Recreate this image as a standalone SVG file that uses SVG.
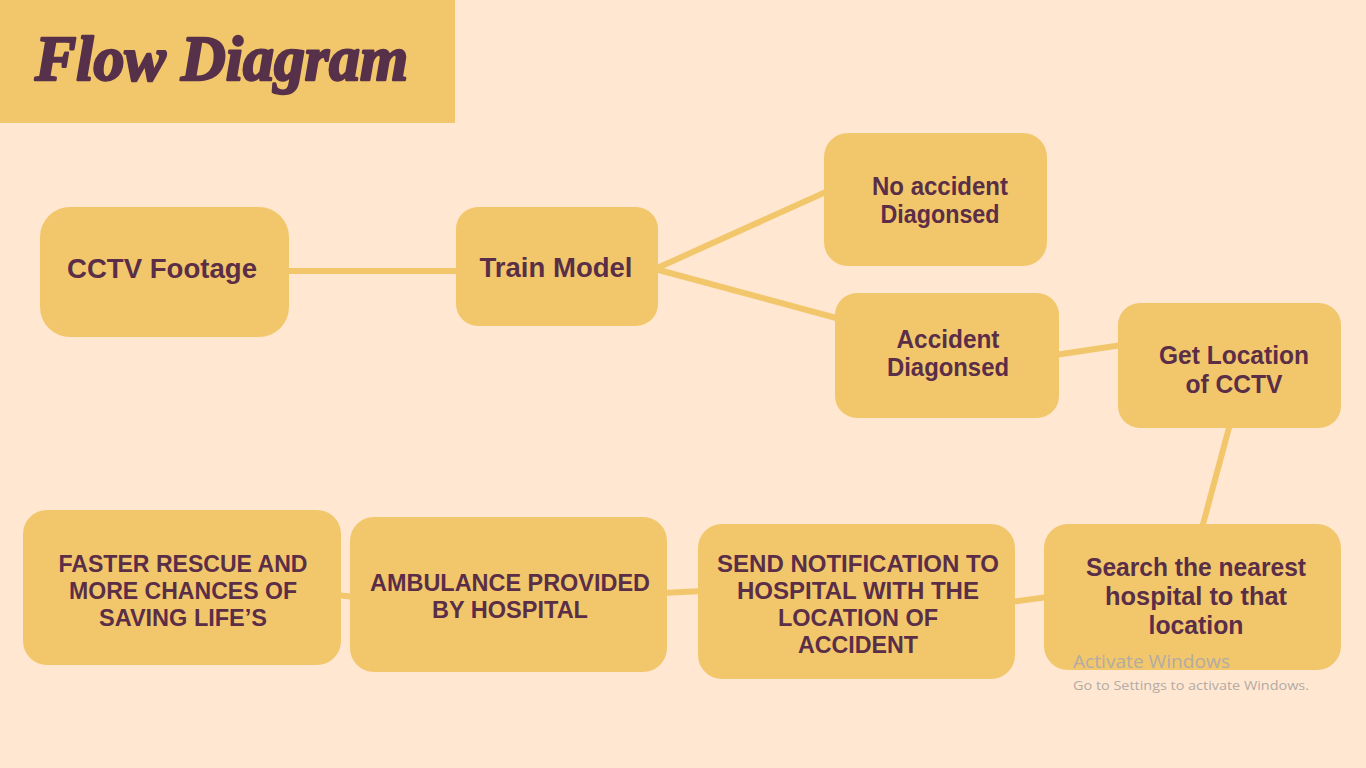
<svg xmlns="http://www.w3.org/2000/svg" width="1366" height="768" viewBox="0 0 1366 768">
<style>
.bg{fill:#FFE7D2}
.box{fill:#F2C76C}
.edge{stroke:#F2C76C;stroke-width:6;fill:none;stroke-linecap:butt}
.t{font-family:"Liberation Sans","DejaVu Sans",sans-serif;font-weight:bold;fill:#5A2E47;text-anchor:middle}
.big{font-size:27px}
.mid{font-size:25px}
.cap{font-size:24px}
.title{font-family:"Liberation Serif","DejaVu Serif",serif;font-weight:bold;font-style:italic;font-size:64px;fill:#57304A;stroke:#57304A;stroke-width:2.5;stroke-linejoin:round}
.wm{font-family:"Open Sans","Liberation Sans",sans-serif;fill:#B3ABA4}
</style>
<rect class="bg" x="0" y="0" width="1366" height="768"/>
<g id="title">
<rect class="box" x="0" y="0" width="455" height="123"/>
<text class="title" x="35" y="80" textLength="373" lengthAdjust="spacingAndGlyphs">Flow Diagram</text>
</g>
<g id="connectors">
<line class="edge" x1="285" y1="271" x2="460" y2="271"/>
<line class="edge" x1="655" y1="269" x2="828" y2="191"/>
<line class="edge" x1="655" y1="269" x2="840" y2="319"/>
<line class="edge" x1="1055" y1="355" x2="1122" y2="345"/>
<line class="edge" x1="1230" y1="424" x2="1202" y2="528"/>
<line class="edge" x1="1048" y1="597" x2="1011" y2="602"/>
<line class="edge" x1="702" y1="591" x2="663" y2="593"/>
<line class="edge" x1="354" y1="597" x2="337" y2="595"/>
</g>
<g id="n-cctv">
<rect class="box" x="40" y="207" width="249" height="130" rx="30"/>
<text class="t big" x="162" y="278" textLength="190" lengthAdjust="spacingAndGlyphs">CCTV Footage</text>
</g>
<g id="n-train">
<rect class="box" x="456" y="207" width="202" height="119" rx="22"/>
<text class="t big" x="556" y="277" textLength="153" lengthAdjust="spacingAndGlyphs">Train Model</text>
</g>
<g id="n-noacc">
<rect class="box" x="824" y="133" width="223" height="133" rx="24"/>
<text class="t mid" x="940" y="195" textLength="136" lengthAdjust="spacingAndGlyphs">No accident</text>
<text class="t mid" x="940" y="223" textLength="119" lengthAdjust="spacingAndGlyphs">Diagonsed</text>
</g>
<g id="n-acc">
<rect class="box" x="835" y="293" width="224" height="125" rx="22"/>
<text class="t mid" x="948" y="348" textLength="103" lengthAdjust="spacingAndGlyphs">Accident</text>
<text class="t mid" x="948" y="376" textLength="122" lengthAdjust="spacingAndGlyphs">Diagonsed</text>
</g>
<g id="n-getloc">
<rect class="box" x="1118" y="303" width="223" height="125" rx="22"/>
<text class="t mid" x="1234" y="364" textLength="150" lengthAdjust="spacingAndGlyphs">Get Location</text>
<text class="t mid" x="1234" y="393" textLength="97" lengthAdjust="spacingAndGlyphs">of CCTV</text>
</g>
<g id="n-search">
<rect class="box" x="1044" y="524" width="297" height="146" rx="24"/>
<text class="t mid" x="1196" y="576" textLength="220" lengthAdjust="spacingAndGlyphs">Search the nearest</text>
<text class="t mid" x="1196" y="605" textLength="182" lengthAdjust="spacingAndGlyphs">hospital to that</text>
<text class="t mid" x="1196" y="634" textLength="95" lengthAdjust="spacingAndGlyphs">location</text>
</g>
<g id="n-send">
<rect class="box" x="698" y="524" width="317" height="155" rx="24"/>
<text class="t cap" x="858" y="572" textLength="282" lengthAdjust="spacingAndGlyphs">SEND NOTIFICATION TO</text>
<text class="t cap" x="858" y="599" textLength="242" lengthAdjust="spacingAndGlyphs">HOSPITAL WITH THE</text>
<text class="t cap" x="858" y="626" textLength="160" lengthAdjust="spacingAndGlyphs">LOCATION OF</text>
<text class="t cap" x="858" y="653" textLength="120" lengthAdjust="spacingAndGlyphs">ACCIDENT</text>
</g>
<g id="n-amb">
<rect class="box" x="350" y="517" width="317" height="155" rx="24"/>
<text class="t cap" x="510" y="591" textLength="280" lengthAdjust="spacingAndGlyphs">AMBULANCE PROVIDED</text>
<text class="t cap" x="510" y="618" textLength="156" lengthAdjust="spacingAndGlyphs">BY HOSPITAL</text>
</g>
<g id="n-faster">
<rect class="box" x="23" y="510" width="318" height="155" rx="24"/>
<text class="t cap" x="183" y="572" textLength="249" lengthAdjust="spacingAndGlyphs">FASTER RESCUE AND</text>
<text class="t cap" x="183" y="599" textLength="228" lengthAdjust="spacingAndGlyphs">MORE CHANCES OF</text>
<text class="t cap" x="183" y="626" textLength="168" lengthAdjust="spacingAndGlyphs">SAVING LIFE’S</text>
</g>
<g id="watermark">
<text class="wm" x="1073" y="668" font-size="18" textLength="157" lengthAdjust="spacingAndGlyphs">Activate Windows</text>
<text class="wm" x="1073" y="690" font-size="13.5" textLength="236" lengthAdjust="spacingAndGlyphs">Go to Settings to activate Windows.</text>
</g>
</svg>
